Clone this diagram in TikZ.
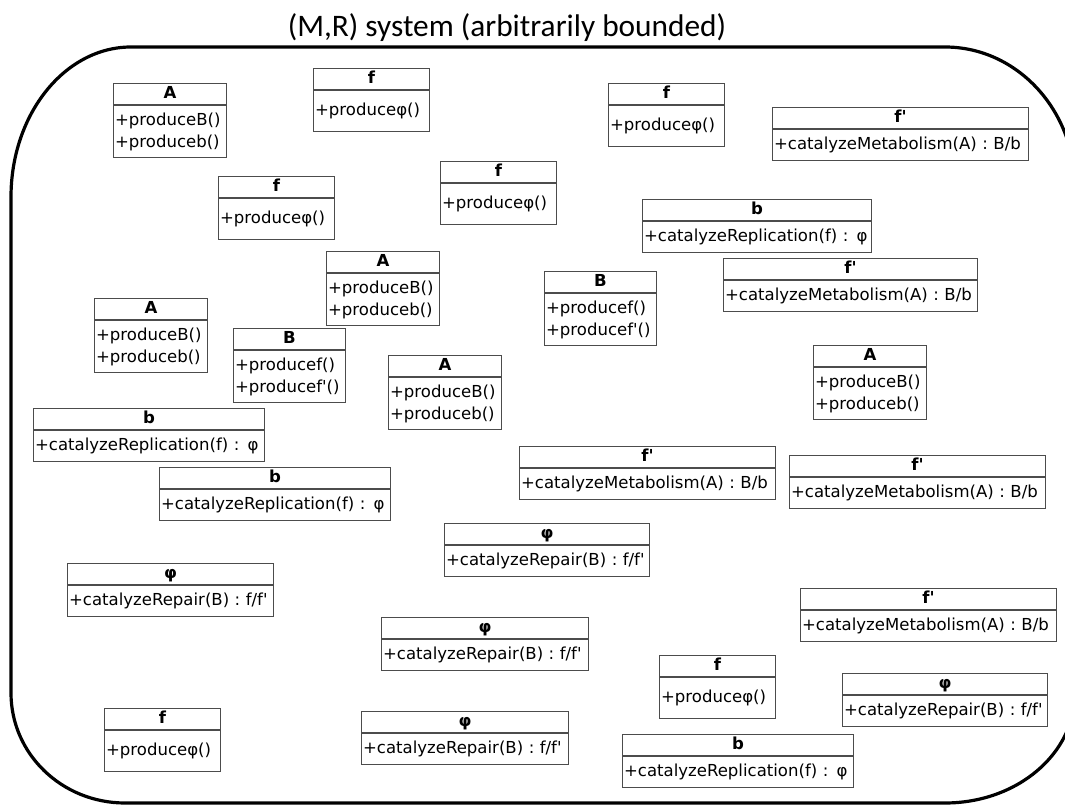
\documentclass[tikz,border=0pt]{standalone}
\usepackage{fontspec}
\newfontfamily\umlfont{DejaVu Sans}
\newfontfamily\titlefont{Carlito}

\tikzset{
  classname/.style={draw=black!70, line width=0.8pt, inner sep=0pt,
    minimum height=15.75pt, text height=9pt, text depth=2.6pt,
    font=\umlfont\bfseries\fontsize{12.4}{16.5}\selectfont, anchor=north west},
  classbody/.style={draw=black!70, line width=0.8pt, inner xsep=1.2pt, inner ysep=0pt,
    align=left, font=\umlfont\fontsize{12.4}{16.5}\selectfont, anchor=north west},
  frame/.style={line width=2.4pt},
}

% one class: name compartment on top, operations below
% #1 id, #2 x, #3 y (top left, px), #4 width, #5 body height, #6 name, #7 operations
\newcommand{\umlclass}[7]{%
  \pgfmathsetlengthmacro{\clsw}{#4*0.75pt}%
  \pgfmathsetlengthmacro{\clstw}{#4*0.75pt-2.4pt}%
  \node[classname, minimum width=\clsw] (#1) at (#2,#3) {#6};
  \node[classbody, text width=\clstw, minimum height=#5*0.75pt] (#1-ops) at (#1.south west) {#7};
}
\newcommand{\opsA}{+produceB()\\+produceb()}
\newcommand{\opsB}{+producef()\\+producef'()}
\newcommand{\opsf}{+produceφ()}
\newcommand{\opsfp}{\mbox{+catalyzeMetabolism(A) : B/b}}
\newcommand{\opsb}{\mbox{+catalyzeReplication(f) : φ}}
\newcommand{\opsphi}{\mbox{+catalyzeRepair(B) : f/f'}}

\begin{document}
\begin{tikzpicture}[x=0.75pt, y=-0.75pt]
  \useasboundingbox (0,0) rectangle (1065,805);
  % title
  \node[font=\titlefont\fontsize{23.5}{28}\selectfont, anchor=base, inner sep=0pt] (title) at (507,37)
    {(M,R) system (arbitrarily bounded)};
  % boundary (right side runs off the page)
  \draw[frame] (11,197) .. controls (11,114) and (65,47) .. (131,47) -- (945,47)
    .. controls (1017,47) and (1075,110) .. (1075,187) -- (1075,693)
    .. controls (1075,754) and (1017,803) .. (945,803) -- (125,803)
    .. controls (62,803) and (11,754) .. (11,693) -- cycle;
  % A
  \umlclass{a1}{113}{83}{113}{52}{A}{\opsA}
  \umlclass{a2}{326}{251}{113}{52}{A}{\opsA}
  \umlclass{a3}{94}{298}{113}{52}{A}{\opsA}
  \umlclass{a4}{388}{355}{113}{52}{A}{\opsA}
  \umlclass{a5}{813}{345}{113}{52}{A}{\opsA}
  % B
  \umlclass{bb1}{544}{271}{112}{52}{B}{\opsB}
  \umlclass{bb2}{233}{328}{112}{52}{B}{\opsB}
  % f
  \umlclass{f1}{313}{68}{116}{41}{f}{\opsf}
  \umlclass{f2}{218}{176}{116}{41}{f}{\opsf}
  \umlclass{f3}{440}{161}{116}{41}{f}{\opsf}
  \umlclass{f4}{608}{83}{116}{41}{f}{\opsf}
  \umlclass{f5}{104}{708}{116}{41}{f}{\opsf}
  \umlclass{f6}{659}{655}{116}{41}{f}{\opsf}
  % f'
  \umlclass{fp1}{772}{107}{256}{31}{f'}{\opsfp}
  \umlclass{fp2}{723}{258}{254}{31}{f'}{\opsfp}
  \umlclass{fp3}{519}{446}{256}{31}{f'}{\opsfp}
  \umlclass{fp4}{789}{455}{256}{31}{f'}{\opsfp}
  \umlclass{fp5}{800}{588}{256}{31}{f'}{\opsfp}
  % b
  \umlclass{b1}{642}{199}{229}{31}{b}{\opsb}
  \umlclass{b2}{33}{408}{231}{31}{b}{\opsb}
  \umlclass{b3}{159}{467}{231}{31}{b}{\opsb}
  \umlclass{b4}{622}{734}{231}{31}{b}{\opsb}
  % phi
  \umlclass{phi1}{444}{523}{205}{31}{φ}{\opsphi}
  \umlclass{phi2}{67}{563}{206}{31}{φ}{\opsphi}
  \umlclass{phi3}{381}{617}{207}{31}{φ}{\opsphi}
  \umlclass{phi4}{361}{711}{207}{31}{φ}{\opsphi}
  \umlclass{phi5}{842}{673}{205}{31}{φ}{\opsphi}
\end{tikzpicture}
\end{document}
